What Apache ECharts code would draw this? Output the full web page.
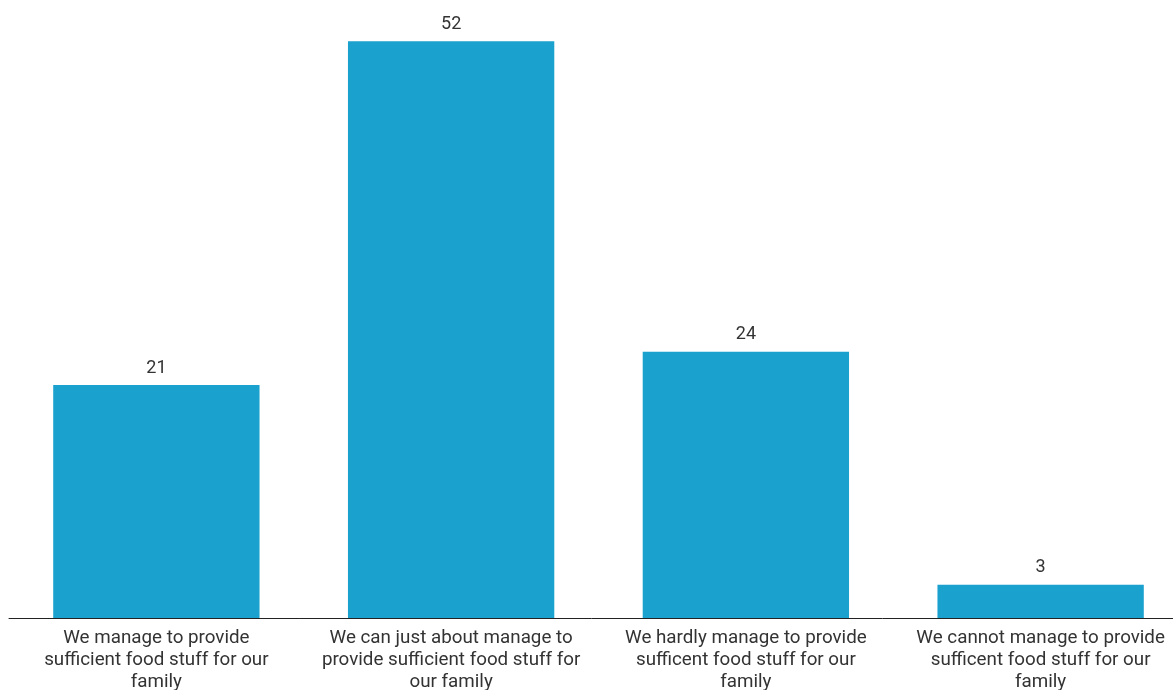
<!DOCTYPE html>
<html>
<head>
<meta charset="utf-8">
<script src="https://cdn.jsdelivr.net/npm/echarts@6/dist/echarts.min.js"></script>
<style>
html,body{margin:0;padding:0;background:#fff;}
#chart{width:1173px;height:690px;}
</style>
</head>
<body>
<div id="chart"></div>
<script>
const categories = [
  "We manage to provide\nsufficient food stuff for our\nfamily",
  "We can just about manage to\nprovide sufficient food stuff for\nour family",
  "We hardly manage to provide\nsufficent food stuff for our\nfamily",
  "We cannot manage to provide\nsufficent food stuff for our\nfamily"
];
const values = [21, 52, 24, 3];

const chart = echarts.init(document.getElementById('chart'), null, {renderer: 'canvas'});
chart.setOption({
  animation: false,
  textStyle: {fontFamily: 'Roboto'},
  grid: {left: 9, top: 8, width: 1179, height: 610, containLabel: false, outerBoundsMode: 'none'},
  xAxis: {
    type: 'category',
    data: categories,
    axisLine: {show: true, lineStyle: {color: '#222', width: 1}},
    axisTick: {show: false},
    axisLabel: {
      interval: 0,
      color: '#333',
      fontSize: 18.8,
      lineHeight: 22,
      margin: 9,
      fontFamily: 'Roboto'
    }
  },
  yAxis: {
    type: 'value',
    min: 0,
    max: 55,
    show: false,
    splitLine: {show: false}
  },
  series: [{
    type: 'bar',
    data: values,
    barWidth: '70%',
    itemStyle: {color: '#1aa1ce'},
    label: {
      show: true,
      position: 'top',
      distance: 8,
      color: '#333',
      fontSize: 18,
      fontFamily: 'Roboto'
    }
  }]
});
</script>
</body>
</html>
